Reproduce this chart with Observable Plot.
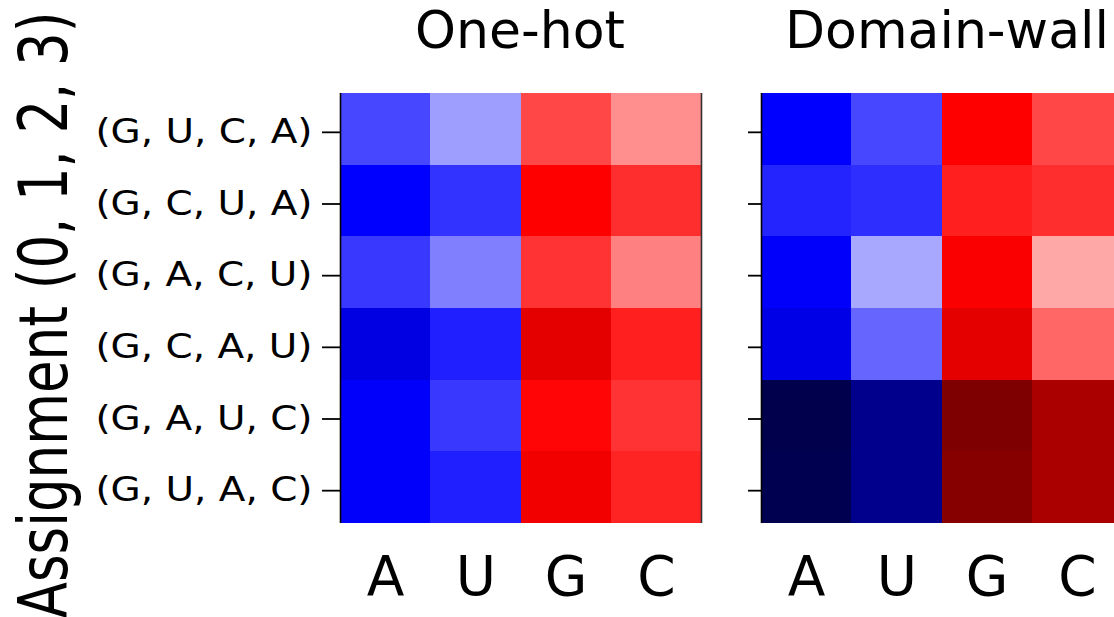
<!DOCTYPE html>
<html>
<head>
<meta charset="utf-8">
<script src="https://cdn.jsdelivr.net/npm/d3@7"></script>
<script src="https://cdn.jsdelivr.net/npm/@observablehq/plot@0.6"></script>
<style>
  html, body { margin: 0; padding: 0; background: #fff; }
  #wrap { position: relative; width: 1114px; height: 617px; overflow: hidden; background: #fff; font-family: "DejaVu Sans", sans-serif; }
  #wrap svg { position: absolute; top: 0; }
  #ylab { position: absolute; left: 44px; top: 315px; font-size: 68px; line-height: 1; white-space: nowrap; color: #000;
          transform: translate(-50%, -50%) rotate(-90deg) scaleX(0.78); }
  .ttl { position: absolute; top: 0px; font-size: 52px; line-height: normal; white-space: nowrap; color: #000;
         transform: translateX(-50%); z-index: 2; }
</style>
</head>
<body>
<div id="wrap"><div id="ylab">Assignment (0, 1, 2, 3)</div></div>
<script>
// ---- data ----
const nucleotides = ["A", "U", "G", "C"];
const assignments = ["(G, U, C, A)", "(G, C, U, A)", "(G, A, C, U)", "(G, C, A, U)", "(G, A, U, C)", "(G, U, A, C)"];
const titles = ["One-hot", "Domain-wall"];
// normalized values, rows = assignments, columns = nucleotides
const oneHot = [
  [-0.36, -0.19, 0.36, 0.22],
  [-0.50, -0.40, 0.50, 0.41],
  [-0.39, -0.25, 0.40, 0.25],
  [-0.58, -0.44, 0.60, 0.44],
  [-0.51, -0.39, 0.49, 0.40],
  [-0.51, -0.44, 0.55, 0.43]
];
const domainWall = [
  [-0.50, -0.36, 0.50, 0.36],
  [-0.43, -0.41, 0.44, 0.41],
  [-0.51, -0.17, 0.52, 0.17],
  [-0.57, -0.30, 0.60, 0.30],
  [-1.00, -0.82, 1.00, 0.83],
  [-0.99, -0.82, 0.97, 0.83]
];
const seismicStops = ["#00004c", "#0000ff", "#ffffff", "#ff0000", "#7f0000"];
// --------------

const seismic = d3.piecewise(d3.interpolateRgb, seismicStops);
const tickVals = d3.range(nucleotides.length).map(i => i + 0.5);
const rowVals = d3.range(assignments.length).map(i => i + 0.5);

function cells(matrix) {
  const out = [];
  matrix.forEach((row, r) => row.forEach((v, c) => out.push({r, c, v})));
  return out;
}

function scaleTexts(svg, selector, s) {
  svg.querySelectorAll(selector).forEach(el => {
    const old = el.getAttribute("transform") || "";
    const tl = el.transform.baseVal.consolidate();
    const m = tl ? tl.matrix : null;
    const x = +el.getAttribute("x") || 0, y = +el.getAttribute("y") || 0;
    const ax = m ? m.a * x + m.c * y + m.e : x;
    const ay = m ? m.b * x + m.d * y + m.f : y;
    el.setAttribute("transform", `translate(${ax},${ay}) scale(${s},1) translate(${-ax},${-ay}) ${old}`);
  });
}

function panel(matrix, opts) {
  const marks = [
    Plot.rect(cells(matrix), {
      x1: d => d.c, x2: d => d.c + 1, y1: d => d.r, y2: d => d.r + 1,
      fill: d => d.v, inset: 0, shapeRendering: "crispEdges"
    }),
    Plot.axisX({ticks: tickVals, tickFormat: d => nucleotides[Math.floor(d)], tickSize: 0, tickPadding: 32, fontSize: 55, label: null}),
    Plot.axisY({ticks: rowVals, tickFormat: opts.labels ? (d => assignments[Math.floor(d)]) : (() => ""),
                tickSize: opts.tickSize, tickPadding: 10, fontSize: 33, label: null, strokeWidth: 1.8, dy: 3}),
    Plot.ruleX(opts.spines, {stroke: d => d === 0 ? "#000" : "#333", strokeWidth: 1.6})
  ];
  const svg = Plot.plot({
    width: opts.width, height: 617,
    marginLeft: opts.marginLeft, marginRight: opts.marginRight, marginTop: 93, marginBottom: 94,
    x: {domain: [0, 4]},
    y: {domain: [0, 6], reverse: true},
    color: {type: "linear", domain: [-1, 1], interpolate: seismic},
    style: {fontFamily: "DejaVu Sans", background: "transparent", color: "#000", overflow: "visible"},
    marks
  });
  svg.style.left = opts.left + "px";
  return svg;
}

const wrap = document.getElementById("wrap");
const left = panel(oneHot, {width: 731, marginLeft: 340, marginRight: 30, left: 0, labels: true, tickSize: 18, spines: [0, 4]});
const right = panel(domainWall, {width: 401, marginLeft: 30, marginRight: 10, left: 731, labels: false, tickSize: 13, spines: [0]});
wrap.appendChild(left);
wrap.appendChild(right);
scaleTexts(left, 'g[aria-label="y-axis tick label"] text', 1.18);

// panel titles, centred above each panel
[[titles[0], 520], [titles[1], 947]].forEach(([t, cx]) => {
  const d = document.createElement("div");
  d.className = "ttl";
  d.textContent = t;
  d.style.left = cx + "px";
  wrap.appendChild(d);
});
</script>
</body>
</html>
